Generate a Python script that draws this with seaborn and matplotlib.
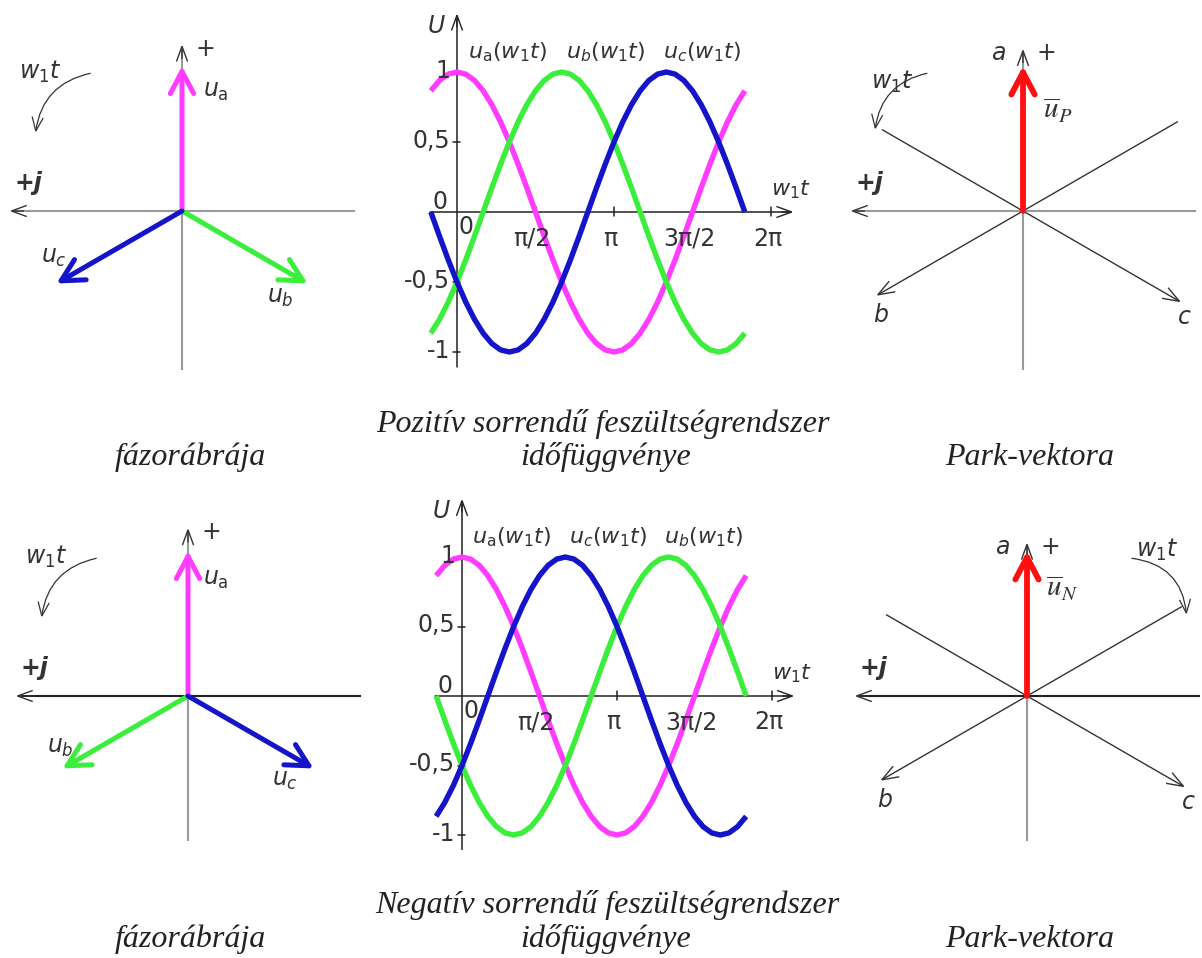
import matplotlib
matplotlib.use("Agg")
import matplotlib.pyplot as plt
import numpy as np
import pandas as pd
import seaborn as sns

# ---------------------------------------------------------------- data
# electrical angle w1t (degrees) where the phase voltages are sampled
angle_deg = [-30, -20, -10, 0, 10, 20, 30, 40, 50, 60, 70, 80, 90, 100, 110, 120, 130, 140, 150,
             160, 170, 180, 190, 200, 210, 220, 230, 240, 250, 260, 270, 280, 290, 300, 310, 320, 330]

# per-unit phase voltages, positive sequence (a -> b -> c)
pos_ua = [0.866, 0.940, 0.985, 1.0, 0.985, 0.940, 0.866, 0.766, 0.643, 0.5, 0.342, 0.174, 0.0,
          -0.174, -0.342, -0.5, -0.643, -0.766, -0.866, -0.940, -0.985, -1.0, -0.985, -0.940,
          -0.866, -0.766, -0.643, -0.5, -0.342, -0.174, 0.0, 0.174, 0.342, 0.5, 0.643, 0.766, 0.866]
pos_ub = [-0.866, -0.766, -0.643, -0.5, -0.342, -0.174, 0.0, 0.174, 0.342, 0.5, 0.643, 0.766, 0.866,
          0.940, 0.985, 1.0, 0.985, 0.940, 0.866, 0.766, 0.643, 0.5, 0.342, 0.174,
          0.0, -0.174, -0.342, -0.5, -0.643, -0.766, -0.866, -0.940, -0.985, -1.0, -0.985, -0.940, -0.866]
pos_uc = [0.0, -0.174, -0.342, -0.5, -0.643, -0.766, -0.866, -0.940, -0.985, -1.0, -0.985, -0.940,
          -0.866, -0.766, -0.643, -0.5, -0.342, -0.174, 0.0, 0.174, 0.342, 0.5, 0.643, 0.766,
          0.866, 0.940, 0.985, 1.0, 0.985, 0.940, 0.866, 0.766, 0.643, 0.5, 0.342, 0.174, 0.0]

# per-unit phase voltages, negative sequence (a -> c -> b)
neg_ua = [0.866, 0.940, 0.985, 1.0, 0.985, 0.940, 0.866, 0.766, 0.643, 0.5, 0.342, 0.174, 0.0,
          -0.174, -0.342, -0.5, -0.643, -0.766, -0.866, -0.940, -0.985, -1.0, -0.985, -0.940,
          -0.866, -0.766, -0.643, -0.5, -0.342, -0.174, 0.0, 0.174, 0.342, 0.5, 0.643, 0.766, 0.866]
neg_ub = [0.0, -0.174, -0.342, -0.5, -0.643, -0.766, -0.866, -0.940, -0.985, -1.0, -0.985, -0.940,
          -0.866, -0.766, -0.643, -0.5, -0.342, -0.174, 0.0, 0.174, 0.342, 0.5, 0.643, 0.766,
          0.866, 0.940, 0.985, 1.0, 0.985, 0.940, 0.866, 0.766, 0.643, 0.5, 0.342, 0.174, 0.0]
neg_uc = [-0.866, -0.766, -0.643, -0.5, -0.342, -0.174, 0.0, 0.174, 0.342, 0.5, 0.643, 0.766, 0.866,
          0.940, 0.985, 1.0, 0.985, 0.940, 0.866, 0.766, 0.643, 0.5, 0.342, 0.174,
          0.0, -0.174, -0.342, -0.5, -0.643, -0.766, -0.866, -0.940, -0.985, -1.0, -0.985, -0.940, -0.866]

phase_names = ["a", "b", "c"]
phase_colors = {"a": "#ff3cff", "b": "#3cee3c", "c": "#1414c8"}
phase_tex = {"a": r"u_\mathrm{a}", "b": r"u_b", "c": r"u_c"}

# phasor directions on the page (degrees, counter-clockwise from +x) and magnitudes
pos_phasor_deg = [90, -30, 210]
neg_phasor_deg = [90, 210, -30]
phasor_mag = [1.0, 1.0, 1.0]

# Park-vector diagram: directions and drawn lengths of the reference lines
park_line_deg = [150, 30, 210, -30]
park_line_len = [1.12, 1.23, 1.17, 1.26]
park_line_head = [False, False, True, True]
park_vector_mag = 1.0

y_ticks = [1, 0.5, -0.5, -1]
y_tick_labels = ["1", "0,5", "-0,5", "-1"]
x_ticks = [90, 180, 270, 360]
x_tick_labels = ["π/2", "π", "3π/2", "2π"]

# ---------------------------------------------------------------- style
sns.set_theme(style="white")
plt.rcParams["font.family"] = ["DejaVu Sans"]
plt.rcParams["mathtext.fontset"] = "dejavusans"

TXT = "#333333"
AXGRAY = "#9a9a9a"
LBL = 16

W, H = 1202, 958
fig = plt.figure(figsize=(W / 100, H / 100), dpi=100)
fig.patch.set_facecolor("white")


def make_axes(box, origin, sx, sy):
    """Axes placed on a pixel box, with data origin at a pixel position."""
    x0, y0, x1, y1 = box
    ox, oy = origin
    ax = fig.add_axes([x0 / W, 1 - y1 / H, (x1 - x0) / W, (y1 - y0) / H])
    ax.set_xlim((x0 - ox) / sx, (x1 - ox) / sx)
    ax.set_ylim((oy - y1) / sy, (oy - y0) / sy)
    ax.set_axis_off()
    ax.patch.set_alpha(0)
    return ax


def arrow(ax, start, end, color, lw, hl, hw, ms=20, rad=0.0, z=3, join="miter"):
    ax.annotate("", xy=end, xytext=start, annotation_clip=False,
                arrowprops=dict(arrowstyle=f"->,head_length={hl},head_width={hw}",
                                color=color, lw=lw, shrinkA=0, shrinkB=0,
                                mutation_scale=ms, connectionstyle=f"arc3,rad={rad}",
                                joinstyle=join, capstyle="round" if join == "round" else "butt"),
                zorder=z)


def thin_head(ax, tip, direction, color="#333333"):
    dx, dy = direction
    arrow(ax, (tip[0] - 0.10 * dx, tip[1] - 0.10 * dy), tip, color, 1.0, 0.55, 0.2)


def complex_plane(ax, vtop, vbot, hcolor):
    ax.plot([0, 0], [vbot, vtop - 0.03], color=AXGRAY, lw=1.5, solid_capstyle="butt", zorder=1)
    thin_head(ax, (0, vtop), (0, 1))
    ax.plot([1.19, -1.16], [0, 0], color=hcolor, lw=1.5, solid_capstyle="butt", zorder=1)
    thin_head(ax, (-1.19, 0), (-1, 0))
    ax.text(0.16, vtop - 0.03, "+", fontsize=LBL + 1, color=TXT, ha="center", va="center")
    ax.text(-1.06, 0.19, "+j", fontsize=LBL + 1, color=TXT, ha="center", va="center",
            fontstyle="italic", fontweight="bold")


def phasor_panel(ax, angles, label_xy, vtop, vbot, hcolor):
    complex_plane(ax, vtop, vbot, hcolor)
    for name, ang, mag, (lx, ly) in zip(phase_names, angles, phasor_mag, label_xy):
        r = np.deg2rad(ang)
        tip = (mag * np.cos(r), mag * np.sin(r))
        arrow(ax, (0, 0), tip, phase_colors[name], 3.6, 0.8, 0.42, join="round")
        ax.text(lx, ly, f"${phase_tex[name]}$", fontsize=LBL + 1, color=TXT,
                ha="center", va="center")
    ax.text(-0.98, 0.96, r"$w_1t$", fontsize=LBL + 1, color=TXT, ha="center", va="center")
    arrow(ax, (-0.63, 0.95), (-1.01, 0.54), "#333333", 0.9, 0.5, 0.2, rad=0.35)


def time_panel(ax, ua, ub, uc, order):
    df = pd.DataFrame({
        "angle": angle_deg * 3,
        "u": ua + ub + uc,
        "phase": ["a"] * len(ua) + ["b"] * len(ub) + ["c"] * len(uc),
    })
    sns.lineplot(data=df, x="angle", y="u", hue="phase", palette=phase_colors,
                 linewidth=3.9, legend=False, sort=False, ax=ax, zorder=3,
                 solid_joinstyle="round", solid_capstyle="butt")
    ax.set_axis_off()
    # axes with arrows
    ax.plot([-31, 383], [0, 0], color="#222222", lw=1.1, zorder=1)
    arrow(ax, (372, 0), (386, 0), "#222222", 1.0, 0.55, 0.2, z=1)
    ax.plot([0, 0], [-1.11, 1.38], color="#222222", lw=1.1, zorder=1)
    arrow(ax, (0, 1.32), (0, 1.42), "#222222", 1.0, 0.55, 0.2, z=1)
    for yt, lab in zip(y_ticks, y_tick_labels):
        ax.plot([-5, 4], [yt, yt], color="#222222", lw=1.1, zorder=1)
        ax.text(-8, yt + 0.01, lab, fontsize=LBL + 1, color=TXT, ha="right", va="center")
    for xt, lab in zip(x_ticks, x_tick_labels):
        ax.plot([xt, xt], [-0.03, 0.035], color="#222222", lw=1.1, zorder=1)
        ax.text(xt - 4, -0.19, lab, fontsize=LBL + 1, color=TXT, ha="center", va="center")
    ax.text(-20, 0.07, "0", fontsize=LBL + 1, color=TXT, ha="center", va="center")
    ax.text(10, -0.11, "0", fontsize=LBL + 1, color=TXT, ha="center", va="center")
    ax.text(-24, 1.33, "$U$", fontsize=LBL + 1, color=TXT, ha="center", va="center")
    ax.text(383, 0.16, r"$w_1t$", fontsize=LBL, color=TXT, ha="center", va="center")
    for name, xc in zip(order, [58, 170, 281]):
        ax.text(xc, 1.14, f"${phase_tex[name]}(w_1t)$", fontsize=LBL, color=TXT,
                ha="center", va="center")


def park_panel(ax, vtop, vbot, hcolor, vec_tex, vec_xy, w_xy, w_arrow, w_rad):
    complex_plane(ax, vtop, vbot, hcolor)
    ax.text(-0.17, vtop - 0.03, "a", fontsize=LBL + 1, color=TXT, ha="center", va="center",
            fontstyle="italic")
    for ang, ln, head in zip(park_line_deg, park_line_len, park_line_head):
        r = np.deg2rad(ang)
        tip = (ln * np.cos(r), ln * np.sin(r))
        if head:
            arrow(ax, (0, 0), tip, "#333333", 1.0, 0.6, 0.22, z=2)
        else:
            ax.plot([0, tip[0]], [0, tip[1]], color="#333333", lw=1.0, zorder=2)
    rb, rc = np.deg2rad(210), np.deg2rad(-30)
    ax.text(1.17 * np.cos(rb) + 0.03, 1.17 * np.sin(rb) - 0.13, "b", fontsize=LBL + 1, color=TXT,
            ha="center", va="center", fontstyle="italic")
    ax.text(1.26 * np.cos(rc) + 0.02, 1.26 * np.sin(rc) - 0.1, "c", fontsize=LBL + 1, color=TXT,
            ha="center", va="center", fontstyle="italic")
    arrow(ax, (0, 0), (0, park_vector_mag), "#ff1010", 4.2, 0.8, 0.42, z=4, join="round")
    ax.text(vec_xy[0], vec_xy[1], vec_tex, fontsize=LBL + 5, color=TXT, ha="center",
            va="center", math_fontfamily="stix")
    ax.text(w_xy[0], w_xy[1], r"$w_1t$", fontsize=LBL + 1, color=TXT, ha="center", va="center")
    arrow(ax, w_arrow[0], w_arrow[1], "#333333", 0.9, 0.5, 0.2, rad=w_rad)


S = 145.0
# ---- positive sequence row
ax = make_axes((0, 30, 370, 380), (182, 211), S, S)
phasor_panel(ax, pos_phasor_deg, [(0.23, 0.83), (0.68, -0.59), (-0.88, -0.32)], 1.15, -1.10, AXGRAY)

ax = make_axes((380, 0, 830, 380), (457, 212), 157 / 180, 140)
time_panel(ax, pos_ua, pos_ub, pos_uc, ["a", "b", "c"])

ax = make_axes((830, 30, 1202, 380), (1023, 211), S, S)
park_panel(ax, 1.12, -1.10, AXGRAY, r"$\overline{u}_P$", (0.24, 0.69), (-0.90, 0.89),
           ((-0.66, 0.95), (-1.02, 0.56)), 0.35)

# ---- negative sequence row
ax = make_axes((0, 490, 370, 850), (188, 696), S, S)
phasor_panel(ax, neg_phasor_deg, [(0.19, 0.81), (-0.88, -0.35), (0.67, -0.58)], 1.16, -1.0, "#222222")

ax = make_axes((380, 480, 830, 850), (462, 696), 155 / 180, 139)
time_panel(ax, neg_ua, neg_ub, neg_uc, ["a", "c", "b"])

ax = make_axes((830, 490, 1202, 850), (1027, 696), S, S)
park_panel(ax, 1.06, -1.0, "#222222", r"$\overline{u}_N$", (0.24, 0.74), (0.90, 1.01),
           ((0.72, 0.95), (1.10, 0.56)), -0.4)

# ---- captions
cap = dict(fontsize=23, color="#222222", ha="center", va="baseline", fontstyle="italic",
           family=["Liberation Serif", "DejaVu Serif"])
fig.text(603 / W, 1 - 432 / H, "Pozitív sorrendű feszültségrendszer", **cap)
fig.text(606 / W, 1 - 465 / H, "időfüggvénye", **cap)
fig.text(190 / W, 1 - 465 / H, "fázorábrája", **cap)
fig.text(1030 / W, 1 - 465 / H, "Park-vektora", **cap)
fig.text(607 / W, 1 - 913 / H, "Negatív sorrendű feszültségrendszer", **cap)
fig.text(606 / W, 1 - 947 / H, "időfüggvénye", **cap)
fig.text(190 / W, 1 - 947 / H, "fázorábrája", **cap)
fig.text(1030 / W, 1 - 947 / H, "Park-vektora", **cap)

fig.savefig("out.png", dpi=100, facecolor="white")
